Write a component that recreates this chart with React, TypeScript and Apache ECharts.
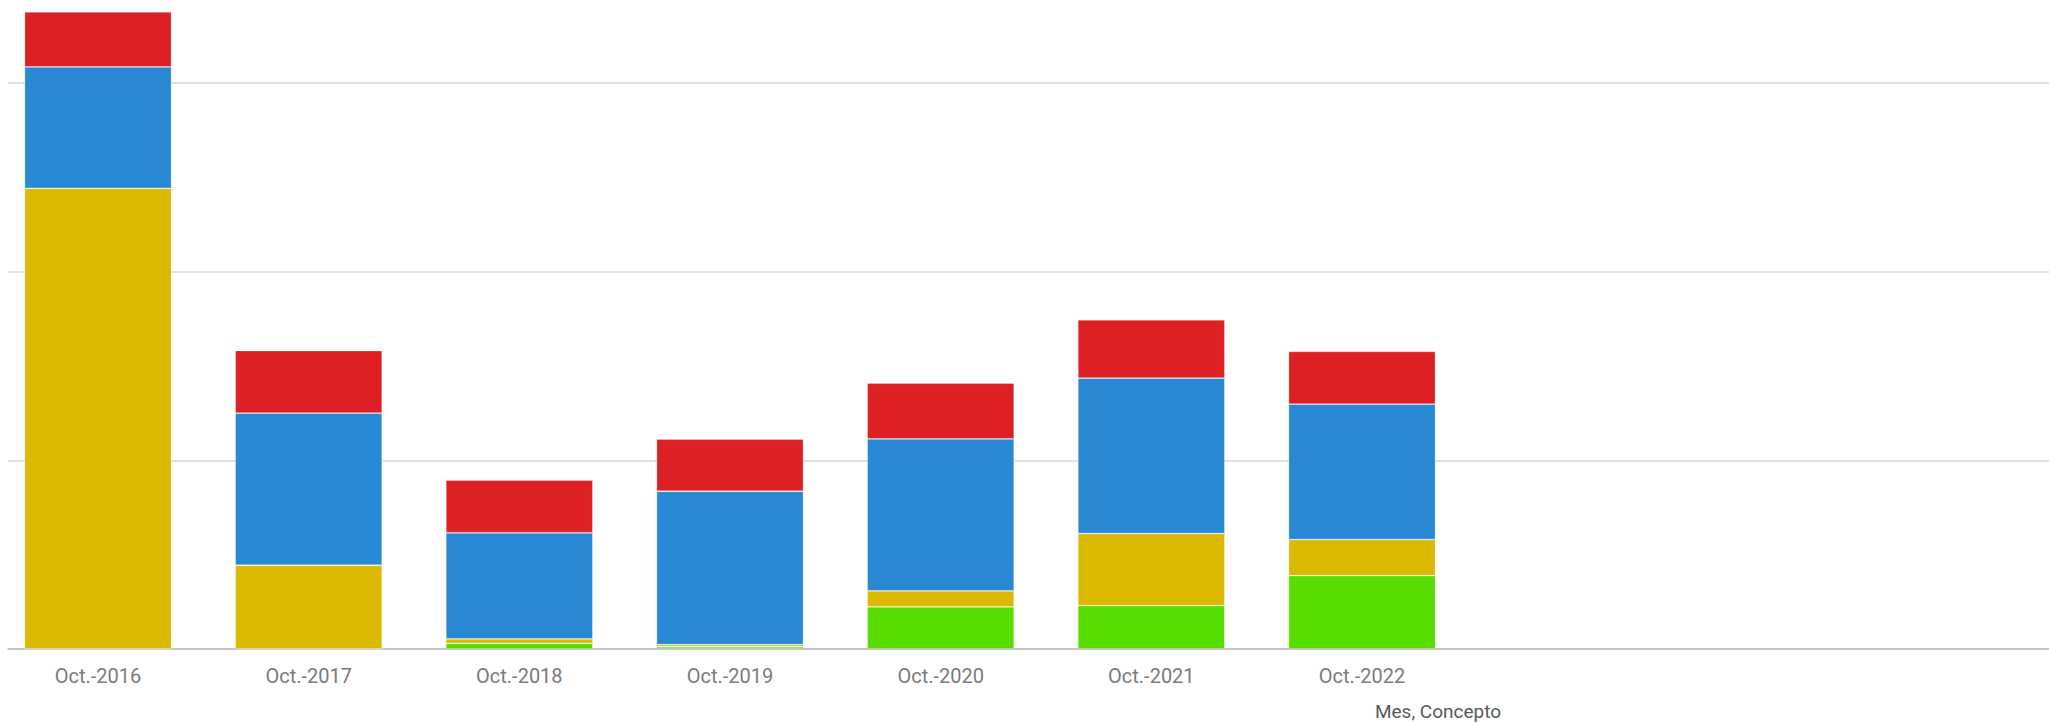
import React, { useEffect, useRef } from "react";
import * as echarts from "echarts";

const categories = ["Oct.-2016", "Oct.-2017", "Oct.-2018", "Oct.-2019", "Oct.-2020", "Oct.-2021", "Oct.-2022"];
const seriesNames = ["Concepto 1", "Concepto 2", "Concepto 3", "Concepto 4"];
const greenValues = [0, 0, 3.0, 1.2, 22.3, 23.0, 38.9];
const yellowValues = [244.2, 44.4, 2.4, 1.1, 8.5, 38.2, 19.1];
const blueValues = [64.3, 80.6, 56.2, 81.3, 80.6, 82.4, 71.8];
const redValues = [29.2, 33.2, 27.9, 27.6, 29.5, 30.9, 27.9];
const seriesColors = ["#59dc00", "#dbb900", "#2988d3", "#dc2023"];
const yMin = 0;
const yMax = 300;
const yInterval = 100;
const axisTitle = "Mes, Concepto";

export default function App() {
  const ref = useRef<HTMLDivElement>(null);
  useEffect(() => {
    if (!ref.current) return;
    const chart = echarts.init(ref.current, undefined, { renderer: "svg" });
    const values = [greenValues, yellowValues, blueValues, redValues];
    chart.setOption({
      animation: false,
      backgroundColor: "#ffffff",
      grid: [
        { left: 8, right: 0, top: 83, bottom: 74 },
        { left: 98, width: 1264, top: 83, bottom: 74 },
      ],
      xAxis: [
        {
          gridIndex: 0,
          type: "value",
          min: 0,
          max: 1,
          axisLine: { show: true, lineStyle: { color: "#b3b3b3", width: 1.5 } },
          axisTick: { show: false },
          axisLabel: { show: false },
          splitLine: { show: false },
        },
        {
          gridIndex: 1,
          type: "category",
          data: categories,
          boundaryGap: false,
          axisLine: { show: false },
          axisTick: { show: false },
          axisLabel: { color: "#7b7b7b", fontSize: 20, fontFamily: "Roboto", margin: 17 },
        },
      ],
      yAxis: [
        {
          gridIndex: 0,
          type: "value",
          min: yMin,
          max: yMax,
          interval: yInterval,
          axisLine: { show: false },
          axisTick: { show: false },
          axisLabel: { show: false },
          splitLine: { show: true, showMinLine: false, lineStyle: { color: "#d9d9d9", width: 1.5 } },
        },
        {
          gridIndex: 1,
          type: "value",
          min: yMin,
          max: yMax,
          interval: yInterval,
          show: false,
          splitLine: { show: false },
        },
      ],
      series: values.map((v, i) => ({
        name: seriesNames[i],
        type: "bar",
        xAxisIndex: 1,
        yAxisIndex: 1,
        stack: "total",
        barWidth: 147,
        clip: false,
        data: v,
        itemStyle: { color: seriesColors[i], borderColor: "rgba(255,255,255,0.35)", borderWidth: 0.8 },
      })),
      graphic: [
        {
          type: "text",
          x: 1438,
          y: 711,
          style: {
            text: axisTitle,
            fill: "#595959",
            fontSize: 19,
            fontFamily: "Roboto",
            align: "center",
            verticalAlign: "middle",
          },
        },
      ],
    });
    return () => chart.dispose();
  }, []);
  return <div ref={ref} style={{ position: "absolute", left: 0, top: 0, width: 2049, height: 723 }} />;
}
